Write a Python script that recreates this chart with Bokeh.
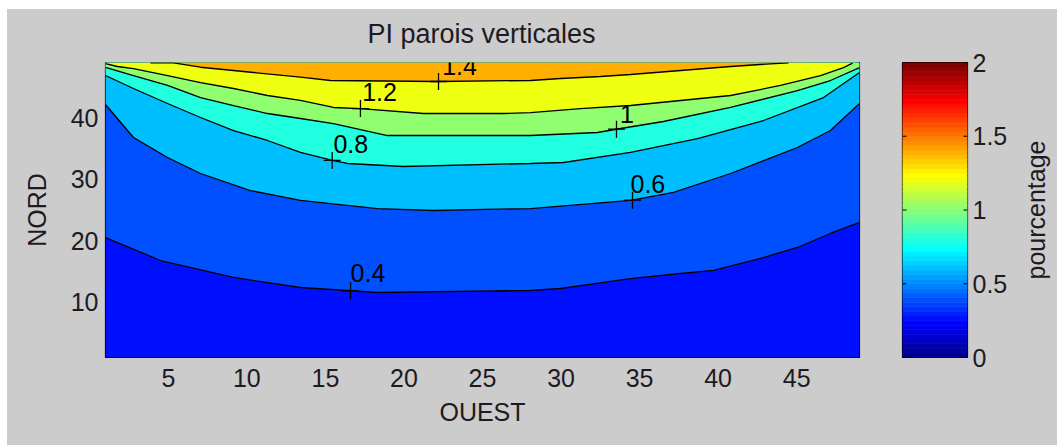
import math
import numpy as np
from bokeh.plotting import figure
from bokeh.models import Range1d, FixedTicker
from bokeh.layouts import row
from bokeh.embed import file_html
from bokeh.resources import INLINE
from bokeh.core.properties import value

# ---------------- data ----------------
TITLE = "PI parois verticales"
X_LABEL = "OUEST"
Y_LABEL = "NORD"
CB_LABEL = "pourcentage"
X_EXTENT = [1, 49]
Y_EXTENT = [1, 49]
X_TICKS = [5, 10, 15, 20, 25, 30, 35, 40, 45]
Y_TICKS = [10, 20, 30, 40]
CB_TICKS = [0.0, 0.5, 1.0, 1.5, 2.0]
CB_TICK_LABELS = ["0", "0.5", "1", "1.5", "2"]
CLIM = [0, 2]
MIN_LEVEL = 0.25
LEVELS = [0.4, 0.6, 0.8, 1.0, 1.2, 1.4]
LEVEL_LABELS = ["0.4", "0.6", "0.8", "1", "1.2", "1.4"]

C04_X = [1.0, 4.50, 9.15, 13.41, 18.32, 28.06, 29.97, 34.42, 37.61, 39.71, 42.89, 45.05, 47.15, 49.0]
C04_Y = [20.52, 16.78, 14.02, 12.39, 11.58, 11.90, 12.23, 13.85, 14.67, 15.16, 17.27, 18.90, 21.18, 22.97]

C06_X = [1.0, 2.78, 4.95, 7.05, 10.23, 13.41, 18.32, 21.88, 28.06, 34.42, 37.16, 40.79, 45.05, 47.15, 49.0]
C06_Y = [42.17, 36.80, 33.54, 30.94, 28.17, 26.55, 25.24, 24.92, 25.24, 26.55, 27.85, 30.94, 35.17, 37.93, 42.33]

C08_X = [1.0, 2.78, 4.95, 7.05, 9.15, 11.31, 13.41, 15.51, 16.41, 19.97, 28.06, 30.16, 34.42, 38.69, 42.89, 46.71, 49.0]
C08_Y = [46.88, 44.77, 42.33, 40.05, 37.93, 36.31, 34.36, 33.05, 32.57, 32.08, 32.57, 32.73, 34.36, 36.63, 39.56, 43.30, 47.37]

C10_X = [1.0, 2.78, 4.95, 7.05, 9.15, 11.31, 13.41, 15.51, 18.95, 28.06, 32.32, 33.79, 36.52, 40.79, 45.05, 47.15, 49.0]
C10_Y = [48.20, 46.88, 45.26, 43.30, 42.00, 40.70, 39.89, 39.07, 37.12, 37.12, 37.61, 38.26, 39.40, 41.68, 44.44, 46.07, 48.18]

C12_X = [1.0, 1.76, 2.78, 4.95, 7.05, 9.15, 11.31, 13.41, 15.51, 17.23, 21.24, 26.34, 28.06, 31.24, 34.42, 37.61, 40.79, 43.97, 46.52, 47.98, 48.56]
C12_Y = [48.80, 48.35, 48.02, 46.88, 45.74, 44.77, 43.63, 42.82, 41.68, 41.51, 40.70, 40.70, 40.86, 41.51, 42.00, 42.82, 43.63, 45.26, 46.88, 48.18, 48.89]

C14_X = [3.86, 5.33, 7.05, 9.15, 13.41, 15.32, 22.14, 28.06, 29.97, 32.51, 34.42, 37.61, 40.79, 43.34, 44.48]
C14_Y = [48.95, 48.95, 48.23, 47.70, 46.61, 46.07, 45.91, 46.07, 46.40, 46.72, 47.05, 47.70, 48.35, 48.79, 48.95]

CONTOURS_X = [C04_X, C06_X, C08_X, C10_X, C12_X, C14_X]
CONTOURS_Y = [C04_Y, C06_Y, C08_Y, C10_Y, C12_Y, C14_Y]

# clabel positions: "+" marks on the contours and label texts
MARK_X = [16.60, 34.55, 15.43, 33.53, 17.23, 22.20]
MARK_Y = [11.86, 26.60, 33.07, 38.15, 41.51, 45.91]
TEXT_X = [16.60, 34.42, 15.51, 33.75, 17.34, 22.43]
TEXT_Y = [14.75, 29.31, 35.66, 40.70, 44.28, 48.35]

# ---------------- styles / layout ----------------
BG = "#cccccc"
FONT = "Liberation Sans"
TXT = "#1e1a22"
FS = "25px"

FIG_H = 445
BORDER_TOP = 62
BORDER_BOTTOM = 88
W1, W2, W3 = 880, 132, 45
CB_LEFT_PX = 22
CB_WIDTH_PX = 65
CB_TICK_LEN_PX = 4
CB_LABEL_PX = 23
WHITE_LEFT, WHITE_TOP = 7, 9


def jet(m=64):
    n = math.ceil(m / 4)
    u = [i / n for i in range(1, n + 1)] + [1.0] * (n - 1) + [i / n for i in range(n, 0, -1)]
    g0 = math.ceil(n / 2) - (1 if m % 4 == 1 else 0)
    J = np.zeros((m, 3))
    for k, uk in enumerate(u):
        gi = g0 + k + 1
        ri = gi + n
        bi = gi - n
        if 1 <= ri <= m:
            J[ri - 1, 0] = uk
        if 1 <= gi <= m:
            J[gi - 1, 1] = uk
        if 1 <= bi <= m:
            J[bi - 1, 2] = uk
    return ["#%02x%02x%02x" % tuple(int(round(c * 255)) for c in r) for r in J]


JET = jet(64)


def level_color(v):
    idx = int((v - CLIM[0]) / (CLIM[1] - CLIM[0]) * len(JET))
    return JET[max(0, min(len(JET) - 1, idx))]


band_colors = [level_color(v) for v in [MIN_LEVEL] + LEVELS]

# ---------------- main contour figure ----------------
p = figure(width=W1, height=FIG_H,
           x_range=Range1d(*X_EXTENT), y_range=Range1d(*Y_EXTENT),
           output_backend="svg", toolbar_location=None,
           min_border_left=105, min_border_right=21,
           min_border_top=BORDER_TOP, min_border_bottom=BORDER_BOTTOM,
           border_fill_color=None, background_fill_color=band_colors[0],
           outline_line_color="black", outline_line_width=1.2)
p.xgrid.visible = False
p.ygrid.visible = False

p.title.text = TITLE
p.title.align = "left"
p.title.offset = 262
p.title.text_font = FONT
p.title.text_font_size = "27px"
p.title.text_font_style = "normal"
p.title.text_color = TXT
p.title.standoff = 28

p.quad(left=[X_EXTENT[0]], right=[X_EXTENT[1]], bottom=[Y_EXTENT[0]], top=[Y_EXTENT[1]],
       fill_color=band_colors[0], line_color=None)

xs, ys = [], []
for cx, cy in zip(CONTOURS_X, CONTOURS_Y):
    xs.append(list(cx) + [X_EXTENT[1], X_EXTENT[0]])
    ys.append(list(cy) + [Y_EXTENT[1], Y_EXTENT[1]])
p.patches(xs=xs, ys=ys, fill_color=band_colors[1:], line_color=None)

p.multi_line(xs=CONTOURS_X, ys=CONTOURS_Y, line_color="black", line_width=1.3)
p.scatter(x=MARK_X, y=MARK_Y, marker="cross", size=17, line_color="black", line_width=1.3)
p.text(x=TEXT_X, y=TEXT_Y, text=LEVEL_LABELS, text_font=value(FONT), text_font_size=FS,
       text_color="black", text_align="left", text_baseline="middle")

for ax in (p.xaxis, p.yaxis):
    ax.major_tick_in = 0
    ax.major_tick_out = 0
    ax.minor_tick_line_color = None
    ax.axis_line_color = None
    ax.major_label_text_font = FONT
    ax.major_label_text_font_size = FS
    ax.major_label_text_color = TXT
    ax.axis_label_text_font = FONT
    ax.axis_label_text_font_size = FS
    ax.axis_label_text_font_style = "normal"
    ax.axis_label_text_color = TXT
p.xaxis.ticker = FixedTicker(ticks=X_TICKS)
p.yaxis.ticker = FixedTicker(ticks=Y_TICKS)
p.xaxis.axis_label = X_LABEL
p.yaxis.axis_label = Y_LABEL
p.xaxis.major_label_standoff = 11
p.xaxis.axis_label_standoff = 8
p.yaxis.major_label_standoff = 7
p.yaxis.axis_label_standoff = 17

# ---------------- colorbar figure ----------------
p2 = figure(width=W2, height=FIG_H,
            x_range=Range1d(0, 1), y_range=Range1d(*CLIM),
            x_axis_location=None, y_axis_location="right",
            output_backend="svg", toolbar_location=None,
            min_border_left=CB_LEFT_PX, min_border_right=W2 - CB_LEFT_PX - CB_WIDTH_PX,
            min_border_top=BORDER_TOP, min_border_bottom=BORDER_BOTTOM,
            border_fill_color=None, background_fill_color=BG,
            outline_line_color="black", outline_line_width=1.2)
p2.xgrid.visible = False
p2.ygrid.visible = False
edges = np.linspace(CLIM[0], CLIM[1], len(JET) + 1)
p2.quad(left=0, right=1, bottom=edges[:-1], top=edges[1:], fill_color=JET,
        line_color=JET, line_width=0.6)
tl = CB_TICK_LEN_PX / CB_WIDTH_PX
p2.segment(x0=0, x1=tl, y0=CB_TICKS, y1=CB_TICKS, line_color="black", line_width=1)
p2.segment(x0=1 - tl, x1=1, y0=CB_TICKS, y1=CB_TICKS, line_color="black", line_width=1)

ya = p2.yaxis[0]
ya.ticker = FixedTicker(ticks=CB_TICKS)
ya.major_label_overrides = dict(zip(CB_TICKS, CB_TICK_LABELS))
ya.major_tick_in = 0
ya.major_tick_out = 0
ya.minor_tick_line_color = None
ya.axis_line_color = None
ya.major_label_standoff = 5
ya.major_label_text_font = FONT
ya.major_label_text_font_size = FS
ya.major_label_text_color = TXT

# ---------------- colorbar label figure ----------------
p3 = figure(width=W3, height=FIG_H,
            x_range=Range1d(0, W3), y_range=Range1d(*CLIM),
            x_axis_location=None, y_axis_location=None,
            output_backend="svg", toolbar_location=None,
            min_border_left=0, min_border_right=0,
            min_border_top=BORDER_TOP, min_border_bottom=BORDER_BOTTOM,
            border_fill_color=None, background_fill_color=None,
            outline_line_color=None)
p3.xgrid.visible = False
p3.ygrid.visible = False
p3.text(x=[CB_LABEL_PX], y=[(CLIM[0] + CLIM[1]) / 2], text=[CB_LABEL], angle=math.pi / 2,
        text_font=value(FONT), text_font_size=FS, text_color=TXT,
        text_align="center", text_baseline="middle")

bg_css = ("linear-gradient(to right, #ffffff %dpx, rgba(255,255,255,0) %dpx), "
          "linear-gradient(to bottom, #ffffff %dpx, %s %dpx)"
          % (WHITE_LEFT, WHITE_LEFT, WHITE_TOP, BG, WHITE_TOP))
layout = row(p, p2, p3, styles={"background": bg_css})
open("out.html", "w").write(file_html(layout, INLINE))
